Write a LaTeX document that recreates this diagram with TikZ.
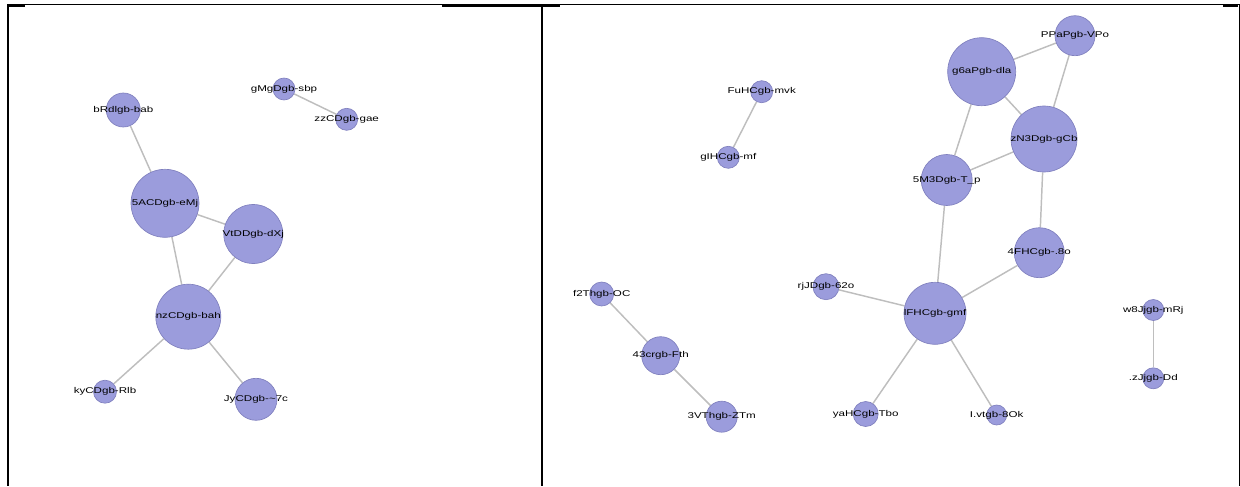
\documentclass[tikz,border=0pt]{standalone}
\usepackage{fontspec}
\newfontfamily\lblfont[FakeStretch=1.38]{Liberation Sans}
\pgfdeclarelayer{background}
\pgfsetlayers{background,main}
\definecolor{nodefill}{RGB}{155,156,220}
\definecolor{nodeline}{RGB}{128,128,190}
\definecolor{edgecol}{RGB}{190,190,190}
\tikzset{
  vtx/.style={circle,draw=nodeline,line width=0.5pt,fill=nodefill,inner sep=0pt,minimum size=#1},
  lbl/.style={inner sep=0pt,font=\lblfont\fontsize{6.3pt}{7pt}\selectfont,text=black},
  edge/.style={draw=edgecol,line width=1.1pt},
  frame/.style={draw=black,line width=0.75pt},
  framethick/.style={draw=black,line width=1.5pt}
}
\newcommand{\vnode}[5]{% name, x, y, radius(px), label
  \node[vtx=#4*1.5pt] (#1) at (#2,#3) {};
  \node[lbl] (#1-t) at (#2,#3) {#5};
}
\begin{document}
\begin{tikzpicture}[x=0.75pt,y=-0.75pt]
\useasboundingbox (0,0) rectangle (1240,486);
% frame
\coordinate (tl) at (7,4.5);
\coordinate (tr) at (1239,4.5);
\draw[frame] (tl) -- (tr);
\coordinate (l1) at (8,4);
\coordinate (l2) at (8,486);
\draw[framethick] (l1) -- (l2);
\coordinate (m1) at (542,5);
\coordinate (m2) at (542,486);
\draw[framethick] (m1) -- (m2);
\coordinate (r1) at (1239,4);
\coordinate (r2) at (1239,486);
\draw[frame] (r1) -- (r2);
\coordinate (a1) at (7,5.5);
\coordinate (a2) at (25,5.5);
\draw[framethick] (a1) -- (a2);
\coordinate (b1) at (442,5.5);
\coordinate (b2) at (560,5.5);
\draw[framethick] (b1) -- (b2);
\coordinate (c1) at (1223,5.5);
\coordinate (c2) at (1238,5.5);
\draw[framethick] (c1) -- (c2);

% left panel
\vnode{bRd}{123.3}{110}{17}{bRdlgb-bab}
\vnode{gMg}{284}{89}{11}{gMgDgb-sbp}
\vnode{zzC}{346.7}{119.3}{11}{zzCDgb-gae}
\vnode{fAC}{165}{203.3}{34}{5ACDgb-eMj}
\vnode{VtD}{253.3}{234}{29.5}{VtDDgb-dXj}
\vnode{nzC}{188.3}{316.7}{32.5}{nzCDgb-bah}
\vnode{kyC}{105}{391.7}{11.5}{kyCDgb-Rlb}
\vnode{JyC}{256}{399.3}{21}{JyCDgb-\textasciitilde7c}

% right panel
\vnode{PPa}{1075}{35.7}{20}{PPaPgb-VPo}
\vnode{gsa}{981.7}{71.7}{34}{g6aPgb-dla}
\vnode{zN3}{1044}{139}{33}{zN3Dgb-gCb}
\vnode{fM3}{946.7}{180}{25.5}{5M3Dgb-T\_p}
\vnode{FHC}{1039.3}{252.7}{25}{4FHCgb-.8o}
\vnode{FuH}{761.7}{91.7}{11}{FuHCgb-mvk}
\vnode{gIH}{728.3}{157.3}{11}{gIHCgb-mf}
\vnode{rjJ}{826}{286.7}{13}{rjJDgb-62o}
\vnode{IFH}{935}{313.3}{31}{lFHCgb-gmf}
\vnode{fTh}{601.7}{294}{12}{f2Thgb-OC}
\vnode{fcr}{660.7}{355.7}{19}{43crgb-Fth}
\vnode{VTh}{721.7}{416.7}{15.5}{3VThgb-ZTm}
\vnode{yaH}{865.7}{414}{12.5}{yaHCgb-Tbo}
\vnode{Lvt}{996.7}{415}{10}{I.vtgb-8Ok}
\vnode{wJj}{1153.3}{310}{10.5}{w8Jjgb-mRj}
\vnode{zJj}{1153.3}{378.3}{10.5}{.zJjgb-Dd}

\begin{pgfonlayer}{background}
\draw[edge] (bRd) -- (fAC);
\draw[edge] (gMg) -- (zzC);
\draw[edge] (fAC) -- (VtD);
\draw[edge] (fAC) -- (nzC);
\draw[edge] (VtD) -- (nzC);
\draw[edge] (nzC) -- (kyC);
\draw[edge] (nzC) -- (JyC);
\draw[edge] (PPa) -- (gsa);
\draw[edge] (PPa) -- (zN3);
\draw[edge] (gsa) -- (zN3);
\draw[edge] (gsa) -- (fM3);
\draw[edge] (zN3) -- (fM3);
\draw[edge] (zN3) -- (FHC);
\draw[edge] (fM3) -- (IFH);
\draw[edge] (FHC) -- (IFH);
\draw[edge] (rjJ) -- (IFH);
\draw[edge] (IFH) -- (yaH);
\draw[edge] (IFH) -- (Lvt);
\draw[edge] (FuH) -- (gIH);
\draw[edge] (fTh) -- (fcr);
\draw[edge] (fcr) -- (VTh);
\draw[edge] (wJj) -- (zJj);
\end{pgfonlayer}
\end{tikzpicture}
\end{document}
